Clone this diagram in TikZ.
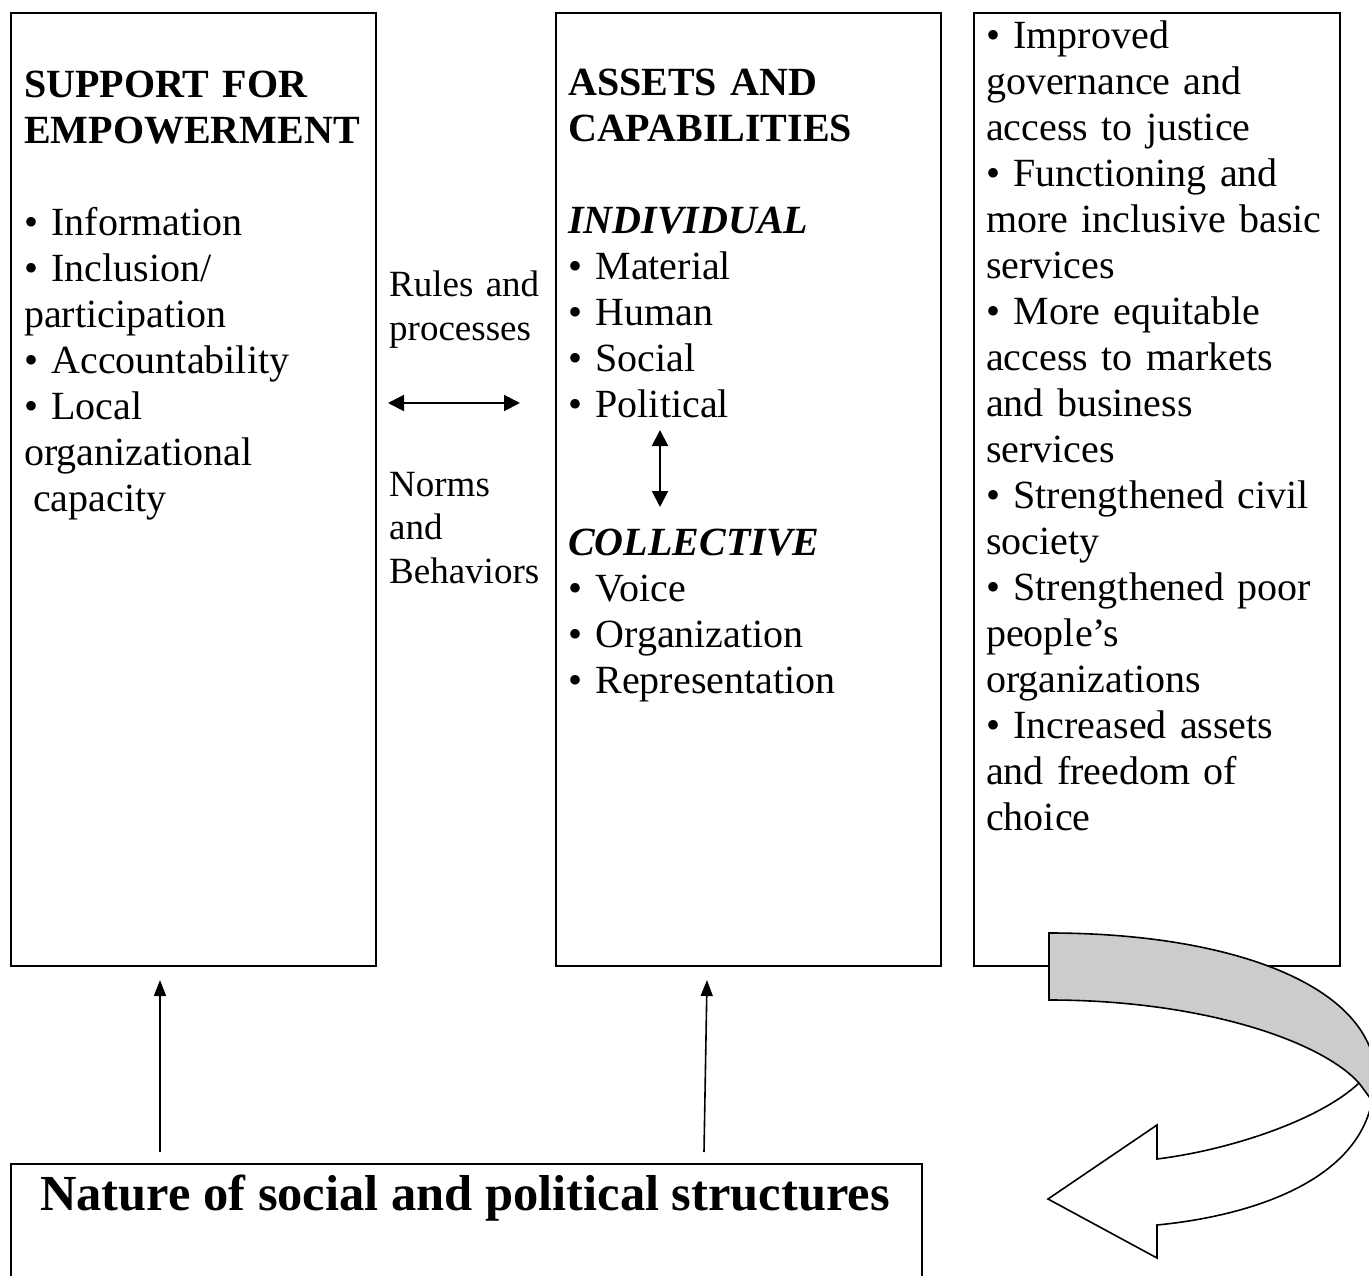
\documentclass[tikz,border=0pt]{standalone}
\usepackage{fontspec}
\setmainfont{Liberation Serif}
\usetikzlibrary{arrows.meta}
\definecolor{ribbon}{gray}{0.8}

\begin{document}
\begin{tikzpicture}[x=1pt,y=-1pt,
  panel/.style={draw, line width=2pt, inner sep=0pt, anchor=north west},
  body/.style={anchor=base west, inner sep=0pt, align=left, text width=#1,
    font=\fontsize{40}{46}\selectfont},
  side/.style={anchor=base west, inner sep=0pt, align=left, text width=160pt,
    font=\fontsize{37}{43.5}\selectfont},
  link/.style={line width=2pt,
    {Triangle[length=16pt,width=16pt]}-{Triangle[length=16pt,width=16pt]}},
  feed/.style={line width=1.6pt, -{Triangle[length=16pt,width=12pt]}},
  band/.style={line width=1.6pt, line join=miter},
]
\useasboundingbox (0,0) rectangle (1369,1276);

% three column panels and the base panel
\node[panel, minimum width=365pt, minimum height=953pt] (sup) at (10,12) {};
\node[panel, minimum width=385pt, minimum height=953pt] (ast) at (555,12) {};
\node[panel, minimum width=366pt, minimum height=953pt] (out) at (973,12) {};
\node[panel, minimum width=911pt, minimum height=200pt] (nat) at (10,1163) {};

% panel contents
\node[body=340pt] (suptxt) at (24,98) {\textbf{SUPPORT FOR}\\
\textbf{EMPOWERMENT}\\[46pt]
• Information\\
• Inclusion/\\
participation\\
• Accountability\\
• Local\\
organizational\\
\hspace*{9pt}capacity};

\node[body=360pt] (asttxt) at (568,96) {\textbf{ASSETS AND}\\
\textbf{CAPABILITIES}\\[46pt]
\textbf{\textit{INDIVIDUAL}}\\
• Material\\
• Human\\
• Social\\
• Political\\[92pt]
\textbf{\textit{COLLECTIVE}}\\
• Voice\\
• Organization\\
• Representation};

\node[body=350pt] (outtxt) at (986,49) {• Improved\\
governance and\\
access to justice\\
• Functioning and\\
more inclusive basic\\
services\\
• More equitable\\
access to markets\\
and business\\
services\\
• Strengthened civil\\
society\\
• Strengthened poor\\
people’s\\
organizations\\
• Increased assets\\
and freedom of\\
choice};

\node[side] (rules) at (389,297) {Rules and\\processes};
\node[side] (norms) at (389,496) {Norms\\and\\Behaviors};

\node[anchor=base, inner sep=0pt, font=\fontsize{50.5}{60}\selectfont\bfseries]
  (nattxt) at (465,1210) {Nature of social and political structures};

% two-way links
\coordinate (rl) at (388,403);
\coordinate (rr) at (520,403);
\draw[link] (rl) -- (rr);
\coordinate (vt) at (660,430);
\coordinate (vb) at (660,507);
\draw[link] (vt) -- (vb);

% upward influence from the base panel
\coordinate (f1s) at (160,1152);
\coordinate (f1e) at (160,980);
\draw[feed] (f1s) -- (f1e);
\coordinate (f2s) at (704,1152);
\coordinate (f2e) at (707,980);
\draw[feed] (f2s) -- (f2e);

% feedback ribbon: front (white) part with the head, then the shaded back part
\draw[band, fill=white] (1374,1080) .. controls (1374,1175) and (1260,1215) .. (1157,1225)
  -- (1157,1258) -- (1048,1199) -- (1157,1125) -- (1157,1159)
  .. controls (1230,1150) and (1320,1120) .. (1359,1083) -- cycle;
\draw[band, fill=ribbon] (1049,933) .. controls (1230,933) and (1376,985) .. (1376,1080)
  -- (1373,1102) -- (1359,1083)
  .. controls (1320,1040) and (1200,1000) .. (1049,1000) -- cycle;
\end{tikzpicture}
\end{document}
